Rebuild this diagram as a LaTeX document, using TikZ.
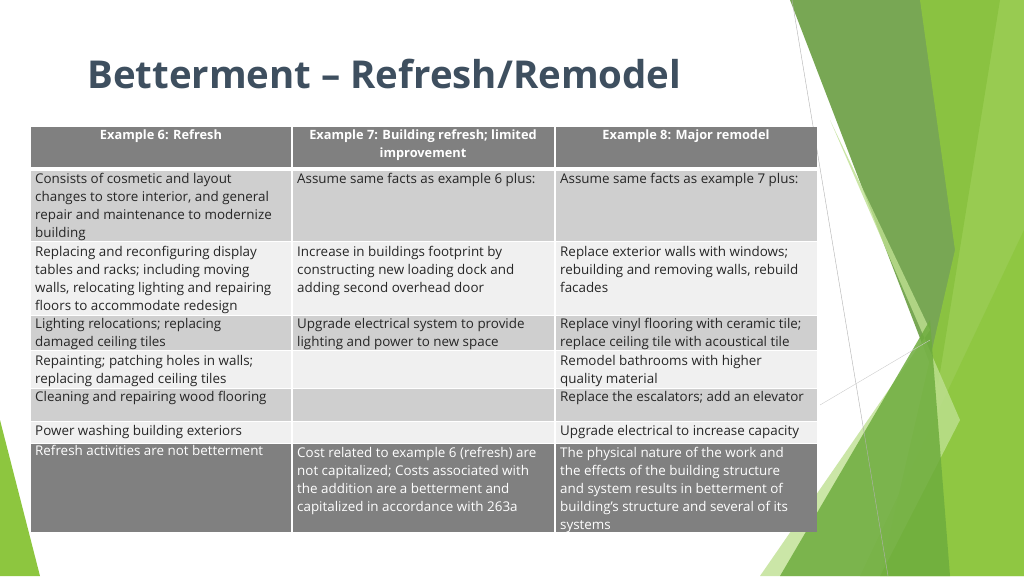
\documentclass[tikz,border=0pt]{standalone}
\usepackage{fontspec}
\setmainfont{Open Sans}
\begin{document}
\begin{tikzpicture}[x=1pt,y=-1pt,
  cell/.style={anchor=north west,inner sep=0pt,align=left,font=\fontsize{13.4}{18}\selectfont,text=black!85},
  hcell/.style={anchor=north,inner sep=0pt,align=center,font=\fontsize{12.8}{18}\selectfont\bfseries,text=white},
  dcell/.style={cell,text=white}]
\useasboundingbox (0,0) rectangle (1024,576);
\fill[white] (0,0) rectangle (1024,576);
% decorations
\fill[color={rgb,255:red,106;green,158;blue,66},opacity=0.9] (790,0) -- (1000,0) -- (938,385) -- cycle;
\fill[color={rgb,255:red,141;green,198;blue,63},opacity=0.9] (920,0) -- (1024,0) -- (1024,576) -- (880,576) -- (955,250) -- cycle;
\fill[color={rgb,255:red,141;green,198;blue,63},opacity=0.8] (1024,230) -- (1024,576) -- (860,576) -- cycle;
\fill[color={rgb,255:red,190;green,224;blue,145},opacity=0.8] (830,120) -- (960,420) -- (880,576) -- (760,576) -- (930,330) -- cycle;
\fill[color={rgb,255:red,110;green,172;blue,62},opacity=0.85] (930,320) -- (950,576) -- (780,576) -- cycle;
\fill[color={rgb,255:red,141;green,198;blue,63}] (0,420) -- (40,576) -- (0,576) -- cycle;
\draw[gray!60,thin] (792,0) -- (888,576);
\draw[gray!40,thin] (820,405) -- (930,340);
% title
\node[anchor=west,inner sep=0pt,font=\fontsize{38.4}{44}\selectfont\bfseries,text={rgb,255:red,62;green,79;blue,95}] (title) at (87,74) {Betterment – Refresh/Remodel};
% table backgrounds
\foreach \ya/\yb/\col in {127/167/black!50,171/241/black!19,241/315/black!6,315/350/black!19,350/388/black!6,388/421/black!19,421/443/black!6,443/532/black!50}{
  \foreach \xa/\xb in {31/292,292/555,555/817}{
    \fill[\col] (\xa,\ya) rectangle (\xb,\yb);
  }
}
\foreach \x in {292,555}{\draw[white,line width=1.2pt] (\x,127) -- (\x,532);}
\foreach \y in {241,315,350,388,421,443}{\draw[white,line width=0.6pt] (31,\y) -- (817,\y);}
% headers
\node[hcell] (h1) at (161,130) {Example 6: Refresh};
\node[hcell] (h2) at (423,130) {Example 7: Building refresh; limited\\improvement};
\node[hcell] (h3) at (686,130) {Example 8: Major remodel};
% column 1
\node[cell] (a1) at (35,173) {Consists of cosmetic and layout\\changes to store interior, and general\\repair and maintenance to modernize\\building};
\node[cell] (a2) at (35,246) {Replacing and reconfiguring display\\tables and racks; including moving\\walls, relocating lighting and repairing\\floors to accommodate redesign};
\node[cell] (a3) at (35,318) {Lighting relocations; replacing\\damaged ceiling tiles};
\node[cell] (a4) at (35,355) {Repainting; patching holes in walls;\\replacing damaged ceiling tiles};
\node[cell] (a5) at (35,391) {Cleaning and repairing wood flooring};
\node[cell] (a6) at (35,425) {Power washing building exteriors};
\node[dcell] (a7) at (35,445) {Refresh activities are not betterment};
% column 2
\node[cell] (b1) at (297,173) {Assume same facts as example 6 plus:};
\node[cell] (b2) at (297,246) {Increase in buildings footprint by\\constructing new loading dock and\\adding second overhead door};
\node[cell] (b3) at (297,318) {Upgrade electrical system to provide\\lighting and power to new space};
\node[dcell] (b7) at (297,447) {Cost related to example 6 (refresh) are\\not capitalized; Costs associated with\\the addition are a betterment and\\capitalized in accordance with 263a};
% column 3
\node[cell] (c1) at (560,173) {Assume same facts as example 7 plus:};
\node[cell] (c2) at (560,246) {Replace exterior walls with windows;\\rebuilding and removing walls, rebuild\\facades};
\node[cell] (c3) at (560,318) {Replace vinyl flooring with ceramic tile;\\replace ceiling tile with acoustical tile};
\node[cell] (c4) at (560,355) {Remodel bathrooms with higher\\quality material};
\node[cell] (c5) at (560,391) {Replace the escalators; add an elevator};
\node[cell] (c6) at (560,425) {Upgrade electrical to increase capacity};
\node[dcell] (c7) at (560,447) {The physical nature of the work and\\the effects of the building structure\\and system results in betterment of\\building's structure and several of its\\systems};
\end{tikzpicture}
\end{document}
